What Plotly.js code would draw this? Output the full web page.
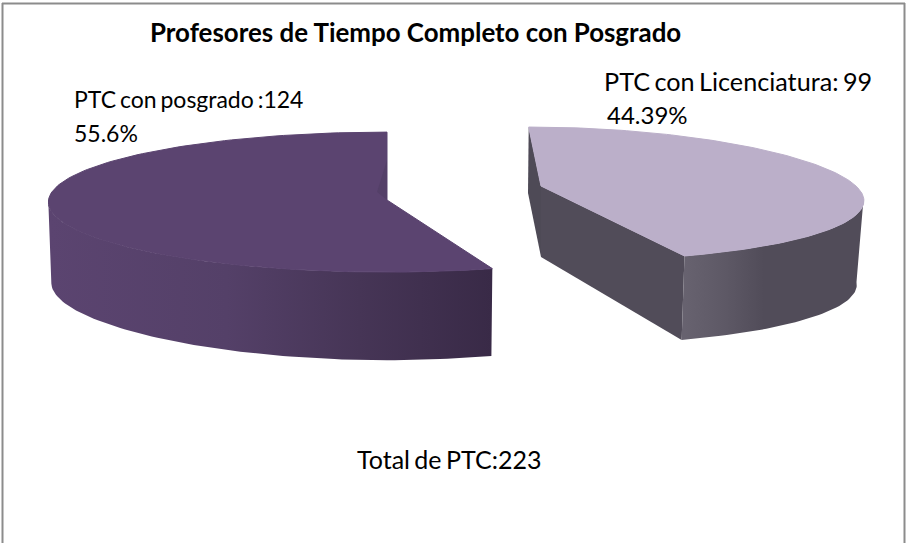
<!DOCTYPE html>
<html>
<head>
<meta charset="utf-8">
<script src="https://cdn.plot.ly/plotly-3.0.1.min.js"></script>
<style>html,body{margin:0;padding:0;background:#fff}#chart{width:908px;height:543px}
.annotation-text{word-spacing:-2px}</style>
</head>
<body>
<div id="chart"></div>
<script>
// Data
var categories = ['PTC con posgrado', 'PTC con Licenciatura'];
var values = [124, 99];
var total = 223;
var labelCounts = ['PTC con posgrado :124', 'PTC con Licenciatura: 99'];
var labelShares = ['55.6%', '44.39%'];
var titleText = 'Profesores de Tiempo Completo con Posgrado';
var totalText = 'Total de PTC:223';

// Slice sweep comes from the values
var sweepA = values[0] / total * 360;
var sweepB = values[1] / total * 360;
var FONT = 'Lato, Carlito, Calibri, sans-serif';

function rad(d){ return d * Math.PI / 180; }
// Oblique projection of a pie rim point; theta measured from 12 o'clock
function rim(g, theta){
  var c = Math.cos(rad(theta)), s = Math.sin(rad(theta));
  return [ g.cx + (g.dir * g.a * s + g.k * c) * (1 - g.p * c),
           g.cy - g.b * c * (1 - g.q * c) + g.m * s * s ];
}
function arc(g, t0, t1, n){
  var out = [];
  for (var i = 0; i <= n; i++) out.push(rim(g, t0 + (t1 - t0) * i / n));
  return out;
}
function poly(pts, name, color, grad, edge){
  var closed = pts.concat([pts[0]]);
  var t = { type:'scatter', mode:'lines', name:name, showlegend:false, hoverinfo:'name',
            x: closed.map(function(p){return p[0];}), y: closed.map(function(p){return p[1];}),
            line:{width:edge || 0, color:color}, fill:'toself', fillcolor:color };
  if (grad) t.fillgradient = grad;
  return t;
}

var topA = {cx:387, cy:200, a:337, b:70, k:0, p:-0.1, q:0.03, m:9, dir:-1};
var botA = {cx:387, cy:286, a:334, b:72, k:0, p:-0.1, q:0.03, m:4, dir:-1};
var topB = {cx:541, cy:186, a:315, b:67, k:-15, p:0.18, q:0.12, m:0, dir:1};
var botB = {cx:541, cy:270, a:308, b:67, k:-15, p:0.18, q:0.12, m:0, dir:1};

var sideAStart = 85, sideBStart = 100;
var sideA = arc(topA, sideAStart, sweepA, 80).concat(arc(botA, sweepA, sideAStart, 80));
var sideB = arc(topB, sideBStart, sweepB, 50).concat(arc(botB, sweepB, sideBStart, 50));
var apexA = [topA.cx, topA.cy], apexB = [topB.cx, topB.cy];
var apexBLow = [541, 257];
var endBTop = rim(topB, sweepB), endBBot = rim(botB, sweepB);
var startBTop = rim(topB, 0);

var traces = [
  poly(sideA, categories[0] + ' (lado)', '#4d3a60', {type:'horizontal', start:50, stop:492,
    colorscale:[[0,'#5b4470'],[0.4,'#544068'],[0.7,'#463556'],[1,'#392a47']]}),
  poly([startBTop, [528,193], apexBLow, apexB], categories[1] + ' (borde)', '#4e4a56'),
  poly([apexB, endBTop, endBBot, apexBLow], categories[1] + ' (corte)', '#514c59'),
  poly(sideB, categories[1] + ' (lado)', '#514c59', {type:'horizontal', start:685, stop:860,
    colorscale:[[0,'#67626f'],[0.22,'#5e5966'],[0.45,'#514c59'],[1,'#514c59']]}),
  poly(arc(topA, 0, sweepA, 160).concat([apexA]), categories[0], '#5b4470', null, 1),
  poly([[387,160],[387,200],[377,192]], categories[0] + ' (interior)', '#544068'),
  poly(arc(topB, 0, sweepB, 140).concat([apexB]), categories[1], '#bbafc9', null, 1)
];

function note(text, x, y, size){
  return {text:text, x:x, y:y, xref:'x', yref:'y', xanchor:'left', yanchor:'middle', showarrow:false,
          align:'left', font:{family:FONT, size:size, color:'#000'}};
}

var layout = {
  width:908, height:543, margin:{l:0,r:0,t:0,b:0},
  paper_bgcolor:'#fff', plot_bgcolor:'#fff', showlegend:false,
  title:{text:'<b>' + titleText + '</b>', x:150/908, xanchor:'left', y:1-33/543, yanchor:'middle',
         font:{family:FONT, size:25.9, color:'#000'}},
  xaxis:{range:[0,908], visible:false, fixedrange:true},
  yaxis:{range:[543,0], visible:false, fixedrange:true},
  shapes:[
    {type:'line', xref:'x', yref:'y', x0:2.5, x1:2.5, y0:3, y1:543, line:{color:'#8c8c8c', width:2}},
    {type:'line', xref:'x', yref:'y', x0:2, x1:905, y0:3.5, y1:3.5, line:{color:'#8c8c8c', width:2}},
    {type:'line', xref:'x', yref:'y', x0:904.5, x1:904.5, y0:3, y1:543, line:{color:'#8c8c8c', width:2}}
  ],
  annotations:[
    note(labelCounts[0], 72, 99, 23),
    note(labelShares[0], 72, 133, 23),
    note(labelCounts[1], 602, 81, 25.2),
    note(labelShares[1], 605, 114, 24),
    note(totalText, 355, 459, 25)
  ]
};
Plotly.newPlot('chart', traces, layout, {displayModeBar:false});
</script>
</body>
</html>
